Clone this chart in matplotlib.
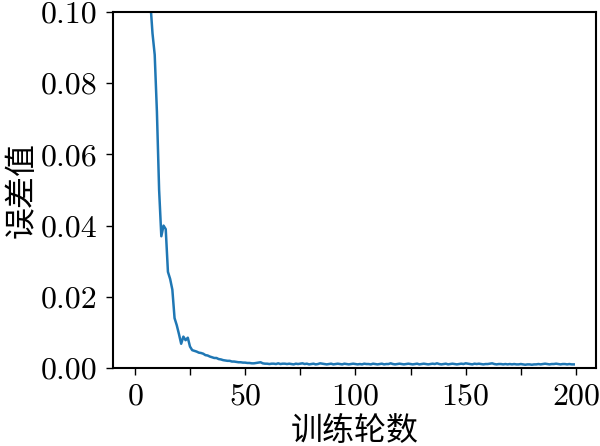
import matplotlib
matplotlib.use('Agg')
import matplotlib.pyplot as plt
from matplotlib.ticker import MultipleLocator

plt.rcParams['font.family'] = 'serif'
plt.rcParams['font.serif'] = ['cmr10']
plt.rcParams['axes.formatter.use_mathtext'] = True
plt.rcParams['font.size'] = 23

# training loss per epoch (epochs 0..199)
loss = [
    0.62, 0.41, 0.29, 0.21, 0.16, 0.13, 0.112, 0.103, 0.094, 0.088,
    0.072, 0.050, 0.037, 0.040, 0.039, 0.027, 0.025, 0.022, 0.014, 0.012,
    0.0095, 0.0068, 0.0088, 0.0078, 0.0085, 0.0060, 0.0050, 0.0048, 0.0046, 0.0043,
    0.0042, 0.0040, 0.0036, 0.0035, 0.0032, 0.0030, 0.0028, 0.0028, 0.0025, 0.0024,
    0.0022, 0.0021, 0.0020, 0.0020, 0.0018, 0.0018, 0.0017, 0.0016, 0.0016, 0.0015,
    0.0015, 0.0014, 0.0014, 0.0013, 0.0013, 0.0014, 0.0015, 0.0016, 0.0013, 0.0012,
    0.0012, 0.0011, 0.0012, 0.0012, 0.0011, 0.0013, 0.0011, 0.0012, 0.0012, 0.0011,
    0.0012, 0.0011, 0.0010, 0.0012, 0.0011, 0.0012, 0.0013, 0.0011, 0.0012, 0.0010,
    0.0011, 0.0012, 0.0010, 0.0011, 0.0013, 0.0012, 0.0011, 0.0010, 0.0011, 0.0012,
    0.0010, 0.0011, 0.0012, 0.0011, 0.0010, 0.0012, 0.0011, 0.0010, 0.0011, 0.0012,
    0.0011, 0.0010, 0.0011, 0.0010, 0.0012, 0.0011, 0.0011, 0.0010, 0.0012, 0.0011,
    0.0010, 0.0011, 0.0012, 0.0010, 0.0011, 0.0011, 0.0013, 0.0011, 0.0010, 0.0011,
    0.0012, 0.0011, 0.0010, 0.0011, 0.0012, 0.0011, 0.0010, 0.0011, 0.0012, 0.0010,
    0.0011, 0.0012, 0.0011, 0.0010, 0.0011, 0.0012, 0.0011, 0.0013, 0.0011, 0.0010,
    0.0011, 0.0012, 0.0010, 0.0011, 0.0012, 0.0011, 0.0010, 0.0011, 0.0012, 0.0011,
    0.0013, 0.0012, 0.0011, 0.0010, 0.0012, 0.0011, 0.0012, 0.0011, 0.0010, 0.0011,
    0.0011, 0.0012, 0.0013, 0.0011, 0.0010, 0.0011, 0.0011, 0.0010, 0.0011, 0.0010,
    0.0011, 0.0010, 0.0011, 0.0010, 0.0010, 0.0011, 0.0010, 0.0009, 0.0010, 0.0010,
    0.0009, 0.0010, 0.0010, 0.0011, 0.0010, 0.0011, 0.0012, 0.0011, 0.0010, 0.0011,
    0.0011, 0.0012, 0.0011, 0.0010, 0.0011, 0.0011, 0.0010, 0.0011, 0.0010, 0.0010,
]
epochs = list(range(len(loss)))

x_label = '训练轮数'
y_label = '误差值'

fig = plt.figure(figsize=(6, 4.46), dpi=100)
ax = fig.add_axes([0.188, 0.175, 0.805, 0.798])

ax.plot(epochs, loss, color='#1f77b4', lw=1.8)
ax.set_ylim(0, 0.10)
ax.set_xlim(-10, 209)

ax.xaxis.set_major_locator(MultipleLocator(50))
ax.xaxis.set_minor_locator(MultipleLocator(25))
ax.yaxis.set_major_locator(MultipleLocator(0.02))
ax.yaxis.set_major_formatter(matplotlib.ticker.FormatStrFormatter('%.2f'))
ax.tick_params(which='both', direction='out', length=5, width=1, pad=6)

for s in ax.spines.values():
    s.set_linewidth(1.5)

cjk = ['Noto Sans CJK SC', 'DejaVu Sans']
ax.set_xlabel(x_label, family=cjk, fontsize=23, labelpad=3)
ax.set_ylabel(y_label, family=cjk, fontsize=23, labelpad=2)

fig.savefig('out.png', dpi=100)
